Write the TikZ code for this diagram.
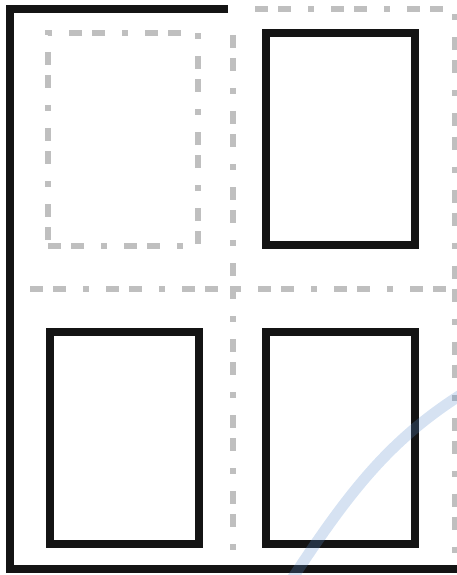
\documentclass[tikz,border=0pt]{standalone}
\usepackage{tikz}

\begin{document}
\begin{tikzpicture}[x=1pt, y=-1pt,
  panel/.style={draw=black!92, line width=8pt, minimum width=149pt,
    minimum height=212pt, inner sep=0pt},
  guide/.style={draw=black!25, line width=5.5pt,
    dash pattern=on 13pt off 10pt on 13pt off 17pt on 6pt off 17pt},
  ghost/.style={guide, minimum width=150pt, minimum height=213pt, inner sep=0pt},
  frame/.style={draw=black!92, line width=8pt, miter limit=10}
]
\useasboundingbox (0,0) rectangle (457,575);
\draw[guide] (255,9) -- (454.5,9) -- (454.5,565);
\draw[guide] (30,289) -- (457,289);
\draw[guide] (233,35) -- (233,550);
\node[ghost] (tl) at (123,139.5) {};
\node[panel] (tr) at (340.5,139) {};
\node[panel] (bl) at (124,438) {};
\node[panel] (br) at (340.5,438) {};
\draw[frame] (228,9) -- (10,9) -- (10,569) -- (457,569);
\draw[line width=11pt, color={rgb,255:red,90;green,140;blue,205}, opacity=0.25]
  (290,582) .. controls (350,490) and (390,440) .. (462,394);
\end{tikzpicture}
\end{document}
